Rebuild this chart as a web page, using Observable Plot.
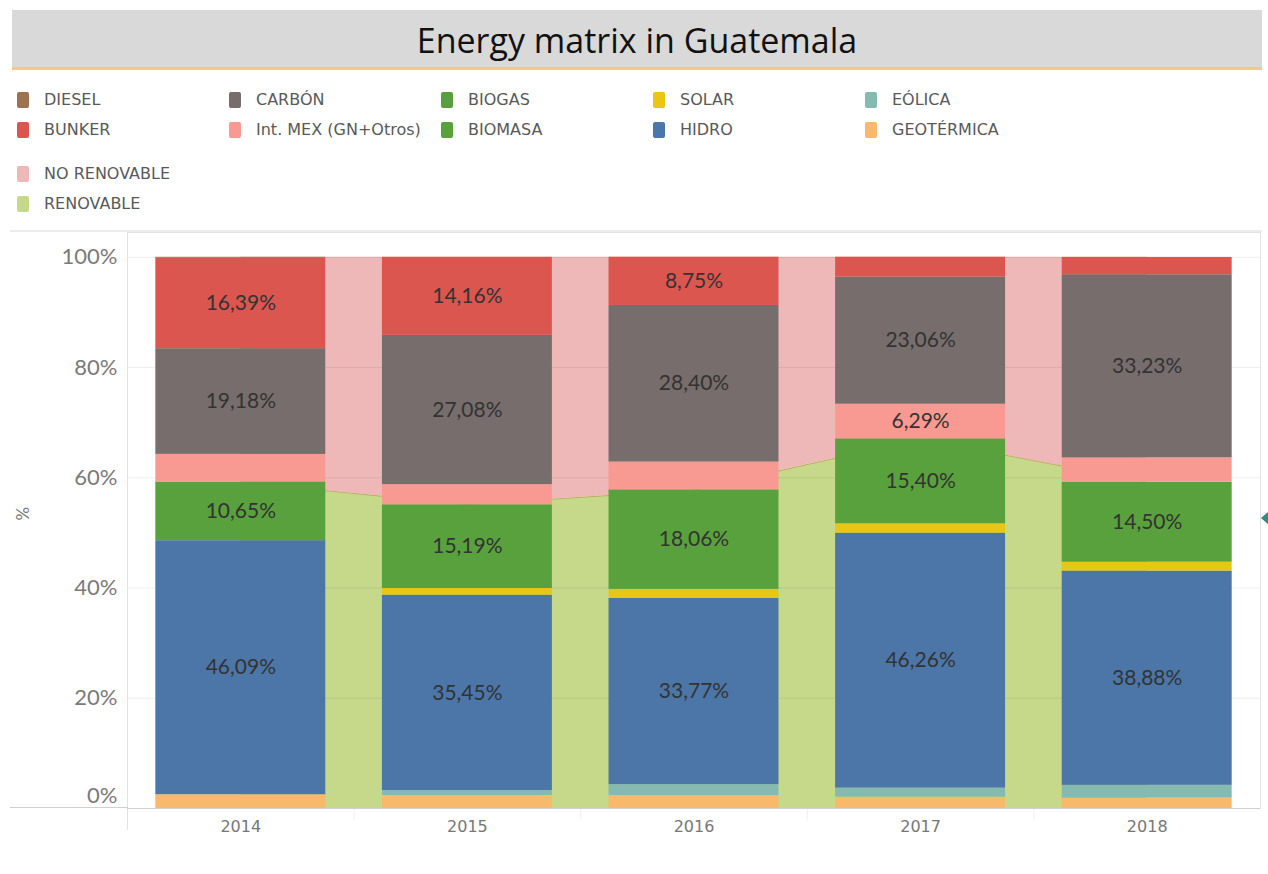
<!DOCTYPE html>
<html>
<head>
<meta charset="utf-8">
<script src="https://cdn.jsdelivr.net/npm/d3@7"></script>
<script src="https://cdn.jsdelivr.net/npm/@observablehq/plot@0.6"></script>
<style>
  html, body { margin: 0; padding: 0; background: #fff; }
  #page { position: relative; width: 1268px; height: 874px; overflow: hidden; }
  #title { position: absolute; left: 12px; top: 10px; width: 1250px; height: 57px; background: #d9d9d9;
           border-bottom: 3px solid #f7c884; text-align: center; line-height: 60px;
           font-family: "Open Sans", sans-serif; font-size: 34px; color: #111; }
  .leg { position: absolute; display: flex; align-items: center; font-family: "DejaVu Sans", sans-serif;
         font-size: 16px; color: #595959; white-space: nowrap; }
  .sw { width: 12px; height: 16px; border-radius: 2px; margin-right: 15px; flex: none; }
  #sep { position: absolute; left: 10px; top: 230px; width: 1252px; height: 2px; background: #ececec; }
  #base { position: absolute; left: 10px; top: 807px; width: 118px; height: 1px; background: #d0d0d0; }
  #chart { position: absolute; left: 0; top: 220px; }
  #mark { position: absolute; left: 1261px; top: 511px; width: 0; height: 0;
          border-top: 7px solid transparent; border-bottom: 7px solid transparent; border-right: 8px solid #2a8f7f; }
</style>
</head>
<body>
<div id="page">
  <div id="title">Energy matrix in Guatemala</div>
  <div id="legend"></div>
  <div id="sep"></div>
  <div id="chart"></div>
  <div id="base"></div>
  <div id="mark"></div>
</div>
<script>
// ---- data ----
const years = [2014, 2015, 2016, 2017, 2018];
const geotermica = [2.50, 2.36, 2.36, 2.05, 1.87];
const eolica     = [0.00, 0.90, 1.97, 1.65, 2.33];
const hidro      = [46.09, 35.45, 33.77, 46.26, 38.88];
const solar      = [0.00, 1.20, 1.65, 1.70, 1.60];
const biomasa    = [10.65, 15.19, 18.06, 15.40, 14.50];
const biogas     = [0.00, 0.00, 0.00, 0.00, 0.00];
const intMex     = [5.00, 3.66, 5.05, 6.29, 4.43];
const carbon     = [19.18, 27.08, 28.40, 23.06, 33.23];
const bunker     = [16.39, 14.16, 8.75, 3.60, 3.14];
const diesel     = [0.19, 0.00, 0.00, 0.00, 0.00];
const renovable  = [59.2, 55.1, 57.8, 67.0, 59.2];
const yTicks = [0, 20, 40, 60, 80, 100];

// stacking order from bottom to top
const sources = [
  {name: "GEOTÉRMICA", values: geotermica, color: "#f9b96b"},
  {name: "EÓLICA", values: eolica, color: "#85bab1"},
  {name: "HIDRO", values: hidro, color: "#4b76a7"},
  {name: "SOLAR", values: solar, color: "#e9c514"},
  {name: "BIOMASA", values: biomasa, color: "#59a13c"},
  {name: "BIOGAS", values: biogas, color: "#5a9f3d"},
  {name: "Int. MEX (GN+Otros)", values: intMex, color: "#f99a92"},
  {name: "CARBÓN", values: carbon, color: "#766d6c"},
  {name: "BUNKER", values: bunker, color: "#dc5650"},
  {name: "DIESEL", values: diesel, color: "#9c7253"}
];
const colorOf = Object.fromEntries(sources.map(s => [s.name, s.color]));
colorOf["NO RENOVABLE"] = "#eeb8b8";
colorOf["RENOVABLE"] = "#c6d889";

// legend (column-major, as in the reference)
const legendCols = [
  ["DIESEL", "BUNKER"],
  ["CARBÓN", "Int. MEX (GN+Otros)"],
  ["BIOGAS", "BIOMASA"],
  ["SOLAR", "HIDRO"],
  ["EÓLICA", "GEOTÉRMICA"]
];
const legendExtra = ["NO RENOVABLE", "RENOVABLE"];
const legend = document.getElementById("legend");
const colX = [17, 229, 441, 653, 865];
function addLeg(name, x, y) {
  const d = document.createElement("div");
  d.className = "leg";
  d.style.left = x + "px"; d.style.top = (y - 9) + "px";
  d.innerHTML = `<span class="sw" style="background:${colorOf[name]}"></span><span>${name}</span>`;
  legend.appendChild(d);
}
legendCols.forEach((col, i) => col.forEach((n, j) => addLeg(n, colX[i], 99 + j * 30)));
legendExtra.forEach((n, j) => addLeg(n, colX[0], 173 + j * 30));

// ---- build the stacked table ----
const half = 0.375;
const rows = [];
years.forEach((yr, i) => {
  let acc = 0;
  for (const s of sources) {
    const v = s.values[i];
    rows.push({year: yr, source: s.name, value: v, y1: acc, y2: acc + v, x1: yr - half, x2: yr + half});
    acc += v;
  }
});
const area = years.map((yr, i) => ({year: yr, ren: renovable[i]}));
const labelled = rows.filter(d => d.value >= 6);
const seps = years.slice(0, -1).map(y => y + 0.5);

const chart = Plot.plot({
  width: 1268,
  height: 654,
  marginLeft: 127,
  marginRight: 8,
  marginTop: 12,
  marginBottom: 66,
  style: {fontFamily: "Lato, sans-serif", background: "transparent"},
  x: {domain: [2013.5, 2018.5], axis: null},
  y: {domain: [0, 104.5], axis: null},
  marks: [
    Plot.areaY(area, {x: "year", y1: "ren", y2: 100, fill: colorOf["NO RENOVABLE"]}),
    Plot.areaY(area, {x: "year", y1: 0, y2: "ren", fill: colorOf["RENOVABLE"]}),
    Plot.lineY(area, {x: "year", y: "ren", stroke: "#c0a05e", strokeWidth: 1, strokeOpacity: 0.8}),
    Plot.gridY({ticks: yTicks, stroke: "#000", strokeOpacity: 0.07}),
    Plot.frame({stroke: "#e2e2e2"}),
    Plot.ruleX(seps, {y1: 0, y2: -2.2, stroke: "#f0f0f0"}),
    Plot.ruleX([2013.5], {y1: 0, y2: -4, stroke: "#e2e2e2"}),
    Plot.rect(rows, {x1: "x1", x2: "x2", y1: "y1", y2: "y2", fill: d => colorOf[d.source]}),
    Plot.ruleY([0], {stroke: "#d0d0d0"}),
    Plot.text(labelled, {
      x: "year", y: d => (d.y1 + d.y2) / 2,
      text: d => d.value.toFixed(2).replace(".", ",") + "%",
      fill: "#333", fontSize: 21, fontFamily: "Lato, sans-serif"
    }),
    Plot.axisY({ticks: yTicks.slice(1), tickFormat: d => d + "%", tickSize: 0, tickPadding: 10,
                fontSize: 22, color: "#7a7a7a", label: null}),
    Plot.axisY({ticks: [0], tickFormat: d => d + "%", tickSize: 0, tickPadding: 10, dy: -13,
                fontSize: 22, color: "#7a7a7a", label: null}),
    Plot.text(["%"], {frameAnchor: "left", dx: -104, rotate: -90, fontSize: 17, fill: "#777"}),
    Plot.axisX({ticks: years, tickFormat: d => String(d), tickSize: 0, tickPadding: 12,
                fontSize: 16, fontFamily: "DejaVu Sans, sans-serif", color: "#777", label: null})
  ]
});
document.getElementById("chart").appendChild(chart);
</script>
</body>
</html>
